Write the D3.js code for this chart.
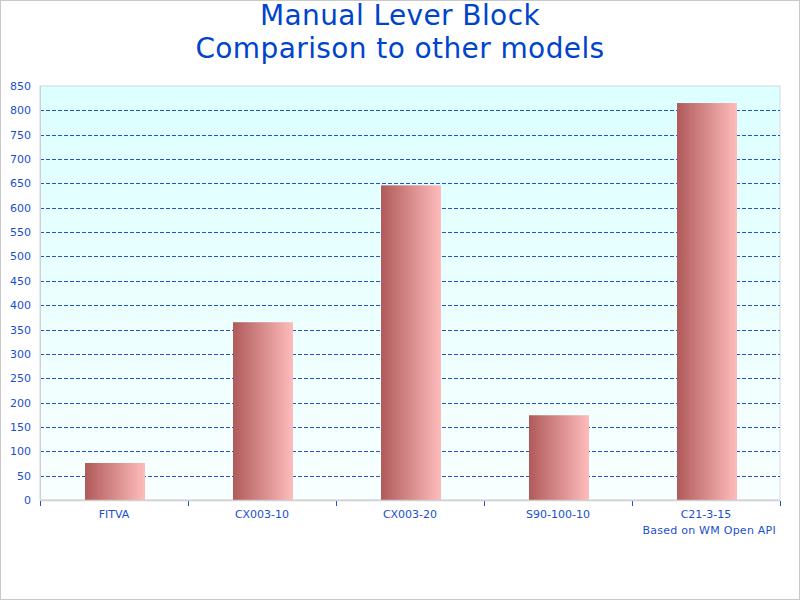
<!DOCTYPE html>
<html><head><meta charset="utf-8">
<script src="https://cdn.jsdelivr.net/npm/d3@7"></script>
<style>body{margin:0;background:#fff;}svg{display:block;}</style>
</head><body>
<script>
const categories = ["FITVA","CX003-10","CX003-20","S90-100-10","C21-3-15"];
const values = [76, 365, 646, 174, 815];
const yTicks = [0,50,100,150,200,250,300,350,400,450,500,550,600,650,700,750,800,850];
const titleLines = ["Manual Lever Block","Comparison to other models"];
const footer = "Based on WM Open API";

const W=800,H=600, m={l:40,r:20,t:86,b:100};
const svg=d3.select("body").append("svg").attr("width",W).attr("height",H);
const defs=svg.append("defs");
const bg=defs.append("linearGradient").attr("id","bg").attr("x1",0).attr("y1",0).attr("x2",0).attr("y2",1);
bg.append("stop").attr("offset","0%").attr("stop-color","#dcffff");
bg.append("stop").attr("offset","100%").attr("stop-color","#f9ffff");
const bar=defs.append("linearGradient").attr("id","bar").attr("x1",0).attr("y1",0).attr("x2",1).attr("y2",0);
bar.append("stop").attr("offset","0%").attr("stop-color","#b05a5a");
bar.append("stop").attr("offset","100%").attr("stop-color","#ffbcbc");

svg.append("rect").attr("x",0.5).attr("y",0.5).attr("width",W-1).attr("height",H-1).attr("fill","#fff").attr("stroke","#c8c8c8");

const x=d3.scaleBand().domain(categories).range([m.l,W-m.r]).paddingInner(0).paddingOuter(0);
const y=d3.scaleLinear().domain([0,850]).range([H-m.b,m.t]);

svg.append("rect").attr("x",m.l).attr("y",m.t).attr("width",W-m.l-m.r).attr("height",H-m.b-m.t)
  .attr("fill","url(#bg)").attr("stroke","#d0d8dc");

const g=svg.append("g");
g.selectAll("line.grid").data(yTicks.filter(d=>d>0&&d<850)).join("line").attr("class","grid")
  .attr("x1",m.l).attr("x2",W-m.r).attr("y1",d=>Math.round(y(d))+0.5).attr("y2",d=>Math.round(y(d))+0.5)
  .attr("stroke","#2255cc").attr("stroke-dasharray","4,2");

const bw=60;
g.selectAll("rect.bar").data(values).join("rect").attr("class","bar")
  .attr("x",(d,i)=>x(categories[i])+x.bandwidth()/2-bw/2+1).attr("width",bw)
  .attr("y",d=>y(d)).attr("height",d=>y(0)-y(d)).attr("fill","url(#bar)");

svg.append("line").attr("x1",m.l).attr("x2",W-m.r).attr("y1",y(0)+0.5).attr("y2",y(0)+0.5).attr("stroke","#d0d0d0").attr("stroke-width",1.5);
svg.append("line").attr("x1",m.l+0.5).attr("x2",m.l+0.5).attr("y1",m.t).attr("y2",y(0)).attr("stroke","#d0d0d0");

const bounds=categories.map(c=>x(c)).concat([W-m.r]);
svg.selectAll("line.xt").data(bounds).join("line").attr("x1",d=>d+0.5).attr("x2",d=>d+0.5)
  .attr("y1",y(0)+1).attr("y2",y(0)+6).attr("stroke","#2255cc");

const font="DejaVu Sans, Verdana, sans-serif";
svg.selectAll("text.xl").data(categories).join("text")
  .attr("x",d=>x(d)+x.bandwidth()/2).attr("y",518).attr("text-anchor","middle")
  .attr("font-family",font).attr("font-size",11).attr("fill","#1a4fcc").text(d=>d);
svg.selectAll("text.yl").data(yTicks).join("text")
  .attr("x",31).attr("y",d=>y(d)+4).attr("text-anchor","end")
  .attr("font-family",font).attr("font-size",11).attr("fill","#1a4fcc").text(d=>d);

svg.append("text").attr("x",776).attr("y",534).attr("text-anchor","end")
  .attr("font-family",font).attr("font-size",11).attr("letter-spacing",0.25).attr("fill","#1a4fcc").text(footer);

svg.selectAll("text.title").data(titleLines).join("text").attr("class","title")
  .attr("x",400).attr("y",(d,i)=>25+i*33).attr("text-anchor","middle")
  .attr("font-family",font).attr("font-size",28).attr("letter-spacing",0.4).attr("fill","#0044cc").text(d=>d);
</script>
</body></html>
